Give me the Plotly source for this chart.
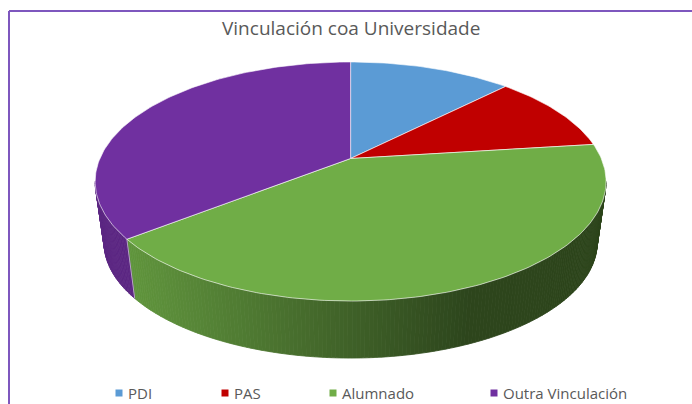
import math
import plotly.graph_objects as go

# ---- data ----
categories = ["PDI", "PAS", "Alumnado", "Outra Vinculación"]
values = [12.4, 10.6, 41.4, 35.6]
colors = ["#5B9BD5", "#C00000", "#70AD47", "#7030A0"]
title_text = "Vinculación coa Universidade"

# ---- layout constants (pixels) ----
W, H = 692, 404
CX, CY = 350.6, 158.5        # projected pie centre
A, B, K = 250.7, 115.1, 0.1925  # ellipse / perspective parameters
S, D0 = 0.965, 62.0          # bottom-face scale and drop
legend_sq_x = [119, 225, 333, 494]
legend_y = 393


def top_pt(theta):
    t = math.radians(theta)
    u, v = math.sin(t), math.cos(t)
    w = 1 + K * v
    return CX + A * u / w, CY - B * v / w


def bot_pt(theta):
    x, y = top_pt(theta)
    return CX + S * (x - CX), CY + D0 + S * (y - CY)


def hex_rgb(h):
    h = h.lstrip("#")
    return tuple(int(h[i:i + 2], 16) for i in (0, 2, 4))


def shade(h, f):
    r, g, b = hex_rgb(h)
    return "rgb(%d,%d,%d)" % (round(r * f), round(g * f), round(b * f))


total = sum(values)
bounds = [0.0]
for v in values:
    bounds.append(bounds[-1] + v / total * 360.0)

fig = go.Figure()

# ---- side walls (front visible part) ----
th_r = math.degrees(math.acos(-K))
th_l = 360 - th_r
for i in range(len(values)):
    a0, a1 = max(bounds[i], th_r), min(bounds[i + 1], th_l)
    if a1 <= a0:
        continue
    n = max(2, int((a1 - a0) / 0.8))
    for j in range(n):
        s0 = a0 + (a1 - a0) * j / n
        s1 = a0 + (a1 - a0) * (j + 1) / n
        xm = top_pt((s0 + s1) / 2)[0]
        if categories[i] == "Alumnado":
            f = 0.86 - (min(max(xm, 130), 470) - 130) * 0.46 / 340
        else:
            f = 0.82
        col = shade(colors[i], f)
        pts_t = [top_pt(s0 + (s1 - s0) * q / 3) for q in range(4)]
        pts_b = [bot_pt(s1 - (s1 - s0) * q / 3) for q in range(4)]
        pts = pts_t + pts_b
        fig.add_trace(go.Scatter(
            x=[p[0] for p in pts] + [pts[0][0]],
            y=[p[1] for p in pts] + [pts[0][1]],
            mode="lines", fill="toself", fillcolor=col,
            line=dict(color=col, width=0.8),
            hoverinfo="skip", showlegend=False))

# vertical edge on side at slice boundaries
for bnd in bounds[1:-1]:
    if th_r < bnd < th_l:
        p0, p1 = top_pt(bnd), bot_pt(bnd)
        fig.add_trace(go.Scatter(
            x=[p0[0], p1[0]], y=[p0[1], p1[1]], mode="lines",
            line=dict(color="rgba(255,255,255,0.55)", width=1),
            hoverinfo="skip", showlegend=False))

# ---- top faces ----
for i in range(len(values)):
    a0, a1 = bounds[i], bounds[i + 1]
    n = max(8, int((a1 - a0) / 1.0))
    arc = [top_pt(a0 + (a1 - a0) * q / n) for q in range(n + 1)]
    xs = [CX] + [p[0] for p in arc] + [CX]
    ys = [CY] + [p[1] for p in arc] + [CY]
    fig.add_trace(go.Scatter(
        x=xs, y=ys, mode="lines", fill="toself", fillcolor=colors[i],
        line=dict(color="rgba(255,255,255,0.6)", width=1),
        name=categories[i], hoverinfo="name", showlegend=False))

# ---- legend ----
fig.add_trace(go.Scatter(
    x=legend_sq_x, y=[legend_y] * 4, mode="markers",
    marker=dict(symbol="square", size=7, color=colors),
    hoverinfo="skip", showlegend=False))
for xq, lab in zip(legend_sq_x, categories):
    fig.add_annotation(x=xq + 7, y=legend_y, text=lab, showarrow=False,
                       xanchor="left", yanchor="middle", xref="x", yref="y",
                       font=dict(family="Open Sans", size=15, color="#595959"))

# ---- title ----
fig.add_annotation(x=CX, y=28, text=title_text, showarrow=False,
                   xanchor="center", yanchor="middle", xref="x", yref="y",
                   font=dict(family="Open Sans", size=19, color="#595959"))

# ---- chart border ----
fig.add_shape(type="line", x0=9, y0=11, x1=W, y1=11, xref="x", yref="y",
              line=dict(color="#7E57BE", width=2))
fig.add_shape(type="line", x0=9, y0=11, x1=9, y1=H, xref="x", yref="y",
              line=dict(color="#7E57BE", width=2))

fig.update_layout(
    width=W, height=H, autosize=False,
    margin=dict(l=0, r=0, t=0, b=0),
    paper_bgcolor="white", plot_bgcolor="white",
    xaxis=dict(range=[0, W], visible=False, fixedrange=True),
    yaxis=dict(range=[H, 0], visible=False, fixedrange=True),
)

fig.write_html(
    "out.html",
    config={"displayModeBar": False},
    post_script="document.body.style.margin='0';document.body.style.overflow='hidden';",
)
